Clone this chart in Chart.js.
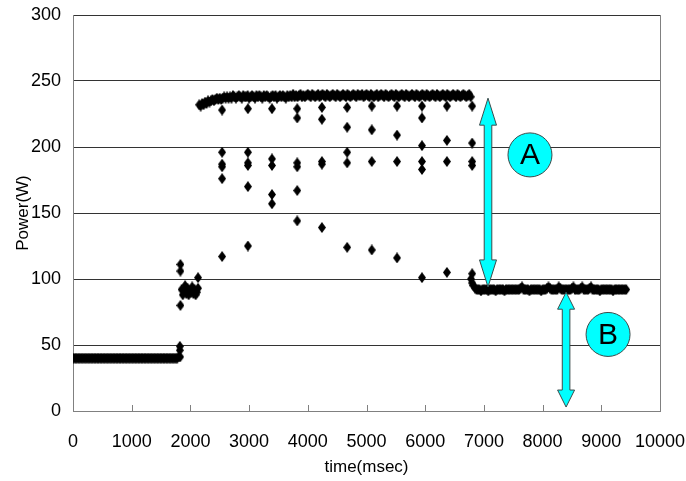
<!DOCTYPE html>
<html>
<head>
<meta charset="utf-8">
<script src="https://cdn.jsdelivr.net/npm/chart.js@4.4.1/dist/chart.umd.min.js"></script>
<style>
  html, body { margin: 0; padding: 0; background: #fff; }
  #wrap { width: 686px; height: 481px; }
</style>
</head>
<body>
<div id="wrap"><canvas id="power-chart" width="686" height="481"></canvas></div>
<script>
// Standby phase (~40 W)
const standbyTime = [0,25,50,75,100,125,150,175,200,225,250,275,300,325,350,375,400,425,450,475,
  500,525,550,575,600,625,650,675,700,725,750,775,800,825,850,875,900,925,950,975,
  1000,1025,1050,1075,1100,1125,1150,1175,1200,1225,1250,1275,1300,1325,1350,1375,1400,1425,1450,1475,
  1500,1525,1550,1575,1600,1625,1650,1675,1700,1725,1750,1775,1800,1825];
const standbyPower = [40,40,40,40,40,40,40,40,40,40,40,40,40,40,40,40,40,40,40,40,
  40,40,40,40,40,40,40,40,40,40,40,40,40,40,40,40,40,40,40,40,
  40,40,40,40,40,40,40,40,40,40,40,40,40,40,40,40,40,40,40,40,
  40,40,40,40,40,40,40,40,40,40,40,40,41,41];

// Start-up transition around 1800-2150 ms
const startTime = [1820,1820,1830,1830,1830,1850,1870,1890,1910,1930,1950,1970,1990,2010,2030,2050,2070,2090,2110,2130,2130];
const startPower = [49,46,111,106,80,92,88,91,95,89,93,88,91,90,94,89,92,88,90,93,101];

// High power band (~238 W)
const highTime = [2150,2175,2200,2225,2250,2275,2300,2325,2350,2375,2400,2425,2450,2475,2500,2525,2550,2575,2600,2625,
  2650,2675,2700,2725,2750,2775,2800,2825,2850,2875,2900,2925,2950,2975,3000,3025,3050,3075,3100,3125,
  3150,3175,3200,3225,3250,3275,3300,3325,3350,3375,3400,3425,3450,3475,3500,3525,3550,3575,3600,3625,
  3650,3675,3700,3725,3750,3775,3800,3825,3850,3875,3900,3925,3950,3975,4000,4025,4050,4075,4100,4125,
  4150,4175,4200,4225,4250,4275,4300,4325,4350,4375,4400,4425,4450,4475,4500,4525,4550,4575,4600,4625,
  4650,4675,4700,4725,4750,4775,4800,4825,4850,4875,4900,4925,4950,4975,5000,5025,5050,5075,5100,5125,
  5150,5175,5200,5225,5250,5275,5300,5325,5350,5375,5400,5425,5450,5475,5500,5525,5550,5575,5600,5625,
  5650,5675,5700,5725,5750,5775,5800,5825,5850,5875,5900,5925,5950,5975,6000,6025,6050,6075,6100,6125,
  6150,6175,6200,6225,6250,6275,6300,6325,6350,6375,6400,6425,6450,6475,6500,6525,6550,6575,6600,6625,
  6650,6675,6700,6725,6750,6775];
const highPower = [232,231,233,232,234,233,235,234,235,236,235,236,237,236,237,236,237,238,237,238,
  237,238,237,239,238,237,238,239,238,237,239,238,238,239,237,238,239,238,237,239,
  238,239,238,237,239,238,239,238,237,238,239,238,239,237,238,239,238,239,238,237,
  239,238,239,238,240,238,239,238,239,240,238,239,238,239,240,239,238,240,239,238,
  239,240,238,239,240,239,238,240,239,238,239,240,239,238,240,239,238,239,240,239,
  238,240,239,238,239,240,239,238,240,239,239,240,238,239,240,239,238,240,239,238,
  239,240,238,239,240,239,238,240,239,238,239,240,239,238,240,239,238,239,240,239,
  238,240,239,238,239,240,239,238,240,239,238,239,240,239,238,240,239,238,239,240,
  239,238,240,239,238,239,240,239,238,240,239,238,239,240,239,238,240,239,238,239,
  240,239,238,239,240,238];

// Periodic dips below the high band
const dipTime = [2540,2540,2540,2540,2540,2540,
  2980,2980,2980,2980,2980,2980,
  3390,3390,3390,3390,3390,
  3820,3820,3820,3820,3820,3820,
  4240,4240,4240,4240,4240,
  4670,4670,4670,4670,4670,
  5090,5090,5090,5090,
  5520,5520,5520,5520,
  5945,5945,5945,5945,5945,5945,
  6370,6370,6370,6370,
  6800,6800,6800,6800,6800];
const dipPower = [228,196,187,185,176,117,
  229,196,188,186,170,125,
  229,191,186,164,157,
  229,222,188,185,167,144,
  230,221,189,187,139,
  230,215,196,188,124,
  231,213,189,122,
  231,209,189,116,
  231,222,201,189,183,101,
  231,205,189,105,
  231,203,189,186,104];

// Low power band (~92 W)
const lowTime = [6780,6800,6820,
  6850,6875,6900,6925,6950,6975,7000,7025,7050,7075,7100,7125,7150,7175,7200,7225,7250,7275,7300,7325,
  7350,7375,7400,7425,7450,7475,7500,7525,7550,7575,7600,7625,7650,7675,7700,7725,7750,7775,7800,7825,
  7850,7875,7900,7925,7950,7975,8000,8025,8050,8075,8100,8125,8150,8175,8200,8225,8250,8275,8300,8325,
  8350,8375,8400,8425,8450,8475,8500,8525,8550,8575,8600,8625,8650,8675,8700,8725,8750,8775,8800,8825,
  8850,8875,8900,8925,8950,8975,9000,9025,9050,9075,9100,9125,9150,9175,9200,9225,9250,9275,9300,9325,
  9350,9375,9400,9425];
const lowPower = [100,97,95,
  93,92,92,92,91,92,92,92,92,91,92,92,92,92,91,92,92,92,92,92,
  91,92,92,92,92,92,92,92,92,92,92,93,94,92,92,92,92,91,92,92,
  92,92,92,92,92,91,92,92,92,93,94,93,92,92,92,92,92,94,93,92,
  92,92,92,92,92,92,93,94,92,92,92,92,93,94,92,92,92,92,93,94,
  92,92,92,92,92,91,92,92,92,92,92,92,92,92,91,92,92,92,92,92,
  92,92,92,92];

const xTicks = [0,1000,2000,3000,4000,5000,6000,7000,8000,9000,10000];

// annotation arrows / labels in data units
const arrowA = { t: 7070, from: 237, to: 94, head: 27 };
const arrowB = { t: 8400, from: 90, to: 3, head: 17 };
const labelA = { t: 7785, p: 194, text: 'A' };
const labelB = { t: 9115, p: 58, text: 'B' };

function toPoints(ts, ps) {
    return ts.map((t, i) => ({ x: t, y: ps[i] }));
}

const allPoints = [].concat(
    toPoints(standbyTime, standbyPower),
    toPoints(startTime, startPower),
    toPoints(highTime, highPower),
    toPoints(dipTime, dipPower),
    toPoints(lowTime, lowPower)
);

// black diamond marker
const diamond = document.createElement('canvas');
diamond.width = 8;
diamond.height = 11;
(function () {
    const c = diamond.getContext('2d');
    c.fillStyle = '#000';
    c.beginPath();
    c.moveTo(4, 0);
    c.lineTo(8, 5.5);
    c.lineTo(4, 11);
    c.lineTo(0, 5.5);
    c.closePath();
    c.fill();
})();

const FONT = "'Liberation Sans', Arial, sans-serif";

function drawArrow(ctx, x, yTop, yBot, head) {
    const hw = 8.5, sw = 3.8;
    ctx.beginPath();
    ctx.moveTo(x, yTop);
    ctx.lineTo(x + hw, yTop + head);
    ctx.lineTo(x + sw, yTop + head);
    ctx.lineTo(x + sw, yBot - head);
    ctx.lineTo(x + hw, yBot - head);
    ctx.lineTo(x, yBot);
    ctx.lineTo(x - hw, yBot - head);
    ctx.lineTo(x - sw, yBot - head);
    ctx.lineTo(x - sw, yTop + head);
    ctx.lineTo(x - hw, yTop + head);
    ctx.closePath();
    ctx.fillStyle = '#00ffff';
    ctx.fill();
    ctx.lineWidth = 1;
    ctx.strokeStyle = '#3c4a4a';
    ctx.stroke();
}

function drawBadge(ctx, x, y, text) {
    ctx.beginPath();
    ctx.arc(x, y, 22, 0, Math.PI * 2);
    ctx.fillStyle = '#00ffff';
    ctx.fill();
    ctx.lineWidth = 1;
    ctx.strokeStyle = '#3c4a4a';
    ctx.stroke();
    ctx.fillStyle = '#000';
    ctx.font = "30px 'Liberation Sans', Arial, sans-serif";
    ctx.textAlign = 'center';
    ctx.textBaseline = 'middle';
    ctx.fillText(text, x, y + 1);
}

const extrasPlugin = {
    id: 'extras',
    afterDraw(chart) {
        const ctx = chart.ctx;
        const xs = chart.scales.x, ys = chart.scales.y;
        const area = chart.chartArea;
        ctx.save();
        // inward x tick marks + right frame
        ctx.strokeStyle = '#808080';
        ctx.lineWidth = 1;
        ctx.beginPath();
        xTicks.forEach(t => {
            const px = Math.round(xs.getPixelForValue(t)) + 0.5;
            ctx.moveTo(px, area.bottom);
            ctx.lineTo(px, area.bottom - 6);
        });
        const rx = Math.round(area.right) + 0.5;
        ctx.moveTo(rx, area.top);
        ctx.lineTo(rx, area.bottom);
        ctx.stroke();

        [arrowA, arrowB].forEach(a => {
            drawArrow(ctx, xs.getPixelForValue(a.t), ys.getPixelForValue(a.from), ys.getPixelForValue(a.to), a.head);
        });
        [labelA, labelB].forEach(l => {
            drawBadge(ctx, xs.getPixelForValue(l.t), ys.getPixelForValue(l.p), l.text);
        });
        ctx.restore();
    }
};

function zeroPadding(scale) {
    scale.paddingTop = 0;
    scale.paddingBottom = 0;
    scale.paddingLeft = 0;
    scale.paddingRight = 0;
}

const tickFont = { family: FONT, size: 18 };

const ctx = document.getElementById('power-chart').getContext('2d');
new Chart(ctx, {
    type: 'scatter',
    data: {
        datasets: [{
            label: 'Power',
            data: allPoints,
            pointStyle: diamond,
            pointRadius: 5,
            backgroundColor: '#000',
            borderColor: '#000'
        }]
    },
    options: {
        responsive: false,
        animation: false,
        layout: { padding: { top: 15, right: 26, left: 0, bottom: 0 } },
        plugins: {
            legend: { display: false },
            tooltip: { enabled: false }
        },
        scales: {
            x: {
                type: 'linear',
                min: 0,
                max: 10000,
                afterBuildTicks: scale => { scale.ticks = xTicks.map(v => ({ value: v })); },
                ticks: { color: '#000', font: tickFont, padding: 20, maxRotation: 0, callback: v => String(v) },
                grid: { display: false, drawTicks: false },
                border: { color: '#808080' },
                title: { display: true, text: 'time(msec)', color: '#000', font: { family: FONT, size: 17 }, padding: { top: 4, bottom: 3 } },
                afterFit: scale => { scale.height = 70; zeroPadding(scale); }
            },
            y: {
                min: 0,
                max: 300,
                ticks: { stepSize: 50, color: '#000', font: tickFont, padding: 12, callback: v => String(v) },
                grid: { color: '#333', drawTicks: false },
                border: { color: '#808080' },
                title: { display: true, text: 'Power(W)', color: '#000', font: { family: FONT, size: 17 }, padding: { top: 13, bottom: 4 } },
                afterFit: scale => { scale.width = 73; zeroPadding(scale); }
            }
        }
    },
    plugins: [extrasPlugin]
});
</script>
</body>
</html>
